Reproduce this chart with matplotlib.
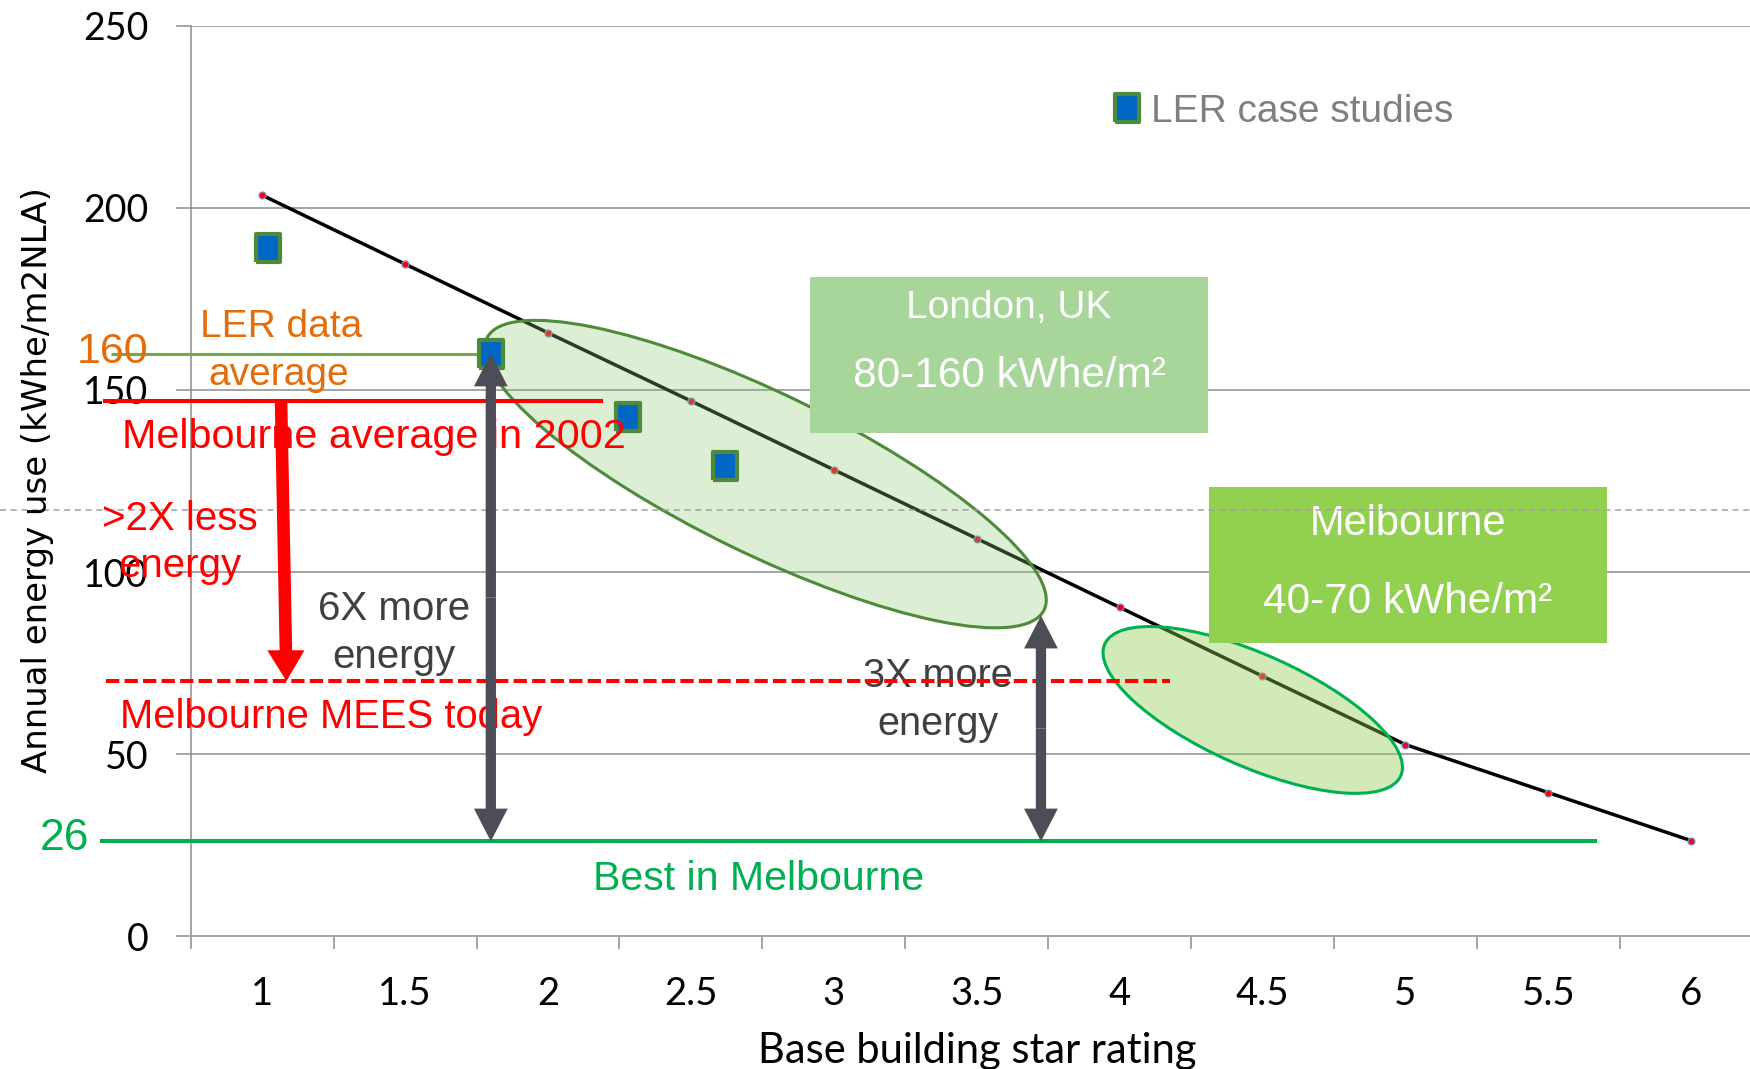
import matplotlib
matplotlib.use("Agg")
import matplotlib.pyplot as plt
import matplotlib.transforms as mtransforms
from matplotlib.patches import Ellipse, Rectangle, FancyArrow
from matplotlib.markers import MarkerStyle

# Base building star rating categories and the fitted trend through them
star_ratings = [1, 1.5, 2, 2.5, 3, 3.5, 4, 4.5, 5, 5.5, 6]
star_labels = ["1", "1.5", "2", "2.5", "3", "3.5", "4", "4.5", "5", "5.5", "6"]
trend_energy = [203.5, 184.6, 165.7, 147.0, 128.1, 109.2, 90.3, 71.4, 52.6, 39.4, 26.2]

# LER case study buildings
case_rating = [1.02, 1.80, 2.28, 2.62]
case_energy = [189, 160, 142.5, 129]

# Reference levels (kWhe/m2 NLA)
ler_average = 160
melbourne_2002 = 147
melbourne_mees = 70
best_melbourne = 26
london_low = 88      # lower edge of the London cluster, start of the 3X arrow
guide_level = 117    # light dashed guide across the chart

y_ticks = [0, 50, 100, 150, 200, 250]

TEXT_FONT = ["Liberation Sans", "DejaVu Sans"]
TICK_FONT = ["Lato", "DejaVu Sans"]
ORANGE = "#e46c0a"
RED = "#ff0000"
GREEN = "#00b050"
DARK = "#404040"
ARROW_GREY = "#4d4d57"
GRID = "#a6a6a6"

fig = plt.figure(figsize=(17.5, 10.69), dpi=100)
ax = fig.add_axes([0.1090, 0.1244, 0.8910, 0.8513])
ax.set_xlim(0.75, 6.206)
ax.set_ylim(0, 250)

# Axes, ticks and grid in a spreadsheet-like style
ax.set_yticks(y_ticks)
ax.set_yticklabels([str(v) for v in y_ticks], fontfamily=TICK_FONT, fontsize=27)
ax.tick_params(axis="y", direction="out", length=10.5, width=1.44, color=GRID, pad=20)
bounds = [r - 0.25 for r in star_ratings]
ax.set_xticks(bounds)
ax.set_xticklabels([])
ax.set_xticks(star_ratings, minor=True)
ax.set_xticklabels(star_labels, minor=True, fontfamily=TICK_FONT, fontsize=27.5)
ax.tick_params(axis="x", which="major", direction="out", length=9.5, width=1.44, color=GRID)
ax.tick_params(axis="x", which="minor", length=0, pad=29)
ax.yaxis.grid(True, color=GRID, lw=1.44)
ax.set_axisbelow(True)
for side in ("top", "right"):
    ax.spines[side].set_visible(False)
ax.spines["left"].set_color("#8c8c8c")
ax.spines["left"].set_linewidth(1.1)
ax.spines["bottom"].set_color(GRID)
ax.spines["bottom"].set_linewidth(1.44)

# Trend of energy use against star rating
ax.plot(star_ratings, trend_energy, color="black", lw=2.5, marker="o", ms=5,
        mfc=RED, mec="#7b8fd0", mew=0.9, zorder=3)


def ellipse_at(x, y, w_px, h_px, angle, face, edge):
    trans = fig.dpi_scale_trans + mtransforms.ScaledTranslation(x, y, ax.transData)
    ax.add_patch(Ellipse((0, 0), w_px / fig.dpi, h_px / fig.dpi, angle=angle,
                         transform=trans, facecolor=face, edgecolor=edge,
                         lw=2.2, zorder=4))


# Clusters: London (upper) and Melbourne (lower)
ellipse_at(2.761, 126.9, 620, 160, -26, (0.55, 0.78, 0.45, 0.30), "#4e8a3a")
ellipse_at(4.466, 62.1, 324, 112, -24, (0.56, 0.80, 0.30, 0.40), GREEN)

# City range boxes
ax.add_patch(Rectangle((2.917, 138.2), 4.309 - 2.917, 181.0 - 138.2,
                       facecolor="#a8d59a", edgecolor="none", zorder=5))
ax.add_patch(Rectangle((4.313, 80.5), 5.706 - 4.313, 123.4 - 80.5,
                       facecolor="#92d050", edgecolor="none", zorder=5))
box_kw = dict(color="white", fontfamily=TEXT_FONT, ha="center", va="baseline", zorder=6)
ax.text(3.613, 169.7, "London, UK", fontsize=28, **box_kw)
ax.text(3.613, 150.9, "80-160 kWhe/m²", fontsize=30.5, **box_kw)
ax.text(5.009, 110.2, "Melbourne", fontsize=30, **box_kw)
ax.text(5.009, 88.7, "40-70 kWhe/m²", fontsize=30.5, **box_kw)

# Light dashed guide spanning the full width
guide_trans = mtransforms.blended_transform_factory(fig.transFigure, ax.transData)
ax.plot([0, 1], [guide_level, guide_level], transform=guide_trans, color="#a0a0a0",
        lw=1.1, ls=(0, (4, 3)), zorder=6.5, clip_on=False)

# LER data average level
ax.plot([0.47, case_rating[1]], [ler_average, ler_average], color="#70ad47",
        lw=2.2, zorder=5.5, clip_on=False, solid_capstyle="butt")

# LER case studies
rect = MarkerStyle([(-0.42, -0.5), (0.42, -0.5), (0.42, 0.5), (-0.42, 0.5), (-0.42, -0.5)],
                   joinstyle="round")
ax.plot(case_rating, case_energy, ls="none", marker=rect, ms=20, mfc="#0068c4",
        mec="#4e8a3c", mew=3, zorder=7, label="LER case studies")
leg = ax.legend(loc="center left", bbox_to_anchor=(3.978, 226.5), bbox_transform=ax.transData,
                frameon=False, borderpad=0, borderaxespad=0, handlelength=0.7,
                handletextpad=0.28, prop={"family": TEXT_FONT, "size": 28})
for t in leg.get_texts():
    t.set_color("#7f7f7f")

# Reference levels
ax.plot([0.443, 2.193], [melbourne_2002, melbourne_2002], color=RED, lw=2.9,
        zorder=9, clip_on=False, solid_capstyle="butt")
ax.plot([0.454, 4.177], [melbourne_mees, melbourne_mees], color=RED, lw=2.9,
        ls=(0, (3.3, 1.3)), zorder=9, clip_on=False)
ax.plot([0.433, 5.671], [best_melbourne, best_melbourne], color=GREEN, lw=2.9,
        zorder=9, clip_on=False, solid_capstyle="butt")


def double_arrow(x, y0, y1):
    mid = (y0 + y1) / 2
    for end in (y0, y1):
        ax.add_patch(FancyArrow(x, mid, 0, end - mid, width=0.036, head_width=0.118,
                                head_length=9.0, length_includes_head=True,
                                facecolor=ARROW_GREY, edgecolor="none", zorder=10))


double_arrow(case_rating[1], best_melbourne, ler_average)
double_arrow(3.725, best_melbourne, london_low)

# Reduction from the 2002 average to today's MEES level
ax.add_patch(FancyArrow(1.066, melbourne_2002, 0.019, melbourne_mees - melbourne_2002,
                        width=0.044, head_width=0.13, head_length=8.5,
                        length_includes_head=True, facecolor=RED, edgecolor="none",
                        zorder=10))


# Annotations
def note(x, y, s, color, ha="left", size=28):
    ax.text(x, y, s, color=color, fontsize=size, fontfamily=TEXT_FONT, ha=ha,
            va="baseline", zorder=8, clip_on=False)


note(1.066, 164.6, "LER data", ORANGE, ha="center")
note(1.059, 151.4, "average", ORANGE, ha="center")
note(0.601, 157.3, "160", ORANGE, ha="right", size=31)
note(0.509, 134.0, "Melbourne average in 2002", RED, size=29.8)
note(0.713, 111.5, ">2X less", RED, ha="center", size=29)
note(0.713, 98.7, "energy", RED, ha="center", size=29)
note(1.461, 86.8, "6X more", DARK, ha="center", size=29)
note(1.461, 73.6, "energy", DARK, ha="center", size=29)
note(0.504, 57.1, "Melbourne MEES today", RED, size=28.8)
note(3.365, 68.5, "3X more", DARK, ha="center", size=28.5)
note(3.365, 55.2, "energy", DARK, ha="center", size=28.5)
note(2.738, 12.6, "Best in Melbourne", GREEN, ha="center", size=29.6)
note(0.394, 23.6, "26", GREEN, ha="right", size=32)

fig.text(0.0212, 0.551, "Annual energy use (kWhe/m2NLA)", rotation=90, ha="center",
         va="center", fontsize=24.5, fontfamily=["DejaVu Sans"], color="black")
fig.text(0.5583, 0.0056, "Base building star rating", ha="center", va="baseline",
         fontsize=30, fontfamily=TICK_FONT, color="black")

fig.savefig("out.png", dpi=100)
